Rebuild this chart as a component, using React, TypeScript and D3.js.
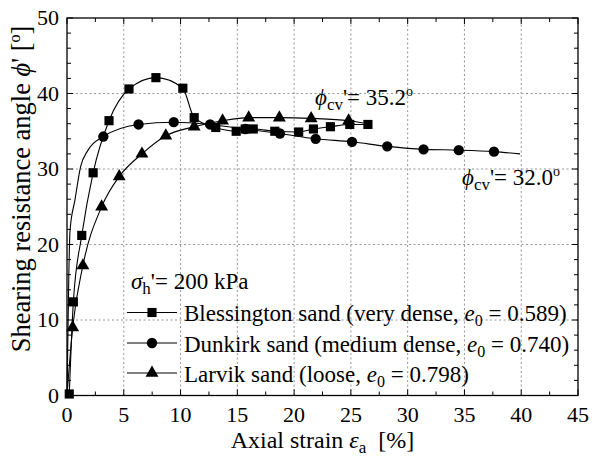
import React from "react";
import * as d3 from "d3";

// [axial strain %, phi' deg, marker shown (1) or not (0)]
const blessington: [number, number, number][] = [
  [0.2, 0.2, 1], [0.56, 12.4, 1], [1.3, 21.2, 1], [2.3, 29.5, 1], [3.7, 36.4, 1],
  [5.46, 40.6, 1], [7.83, 42.1, 1], [10.2, 40.7, 1], [11.2, 36.8, 1], [13.1, 35.5, 1],
  [14.9, 35.0, 1], [15.7, 35.3, 1], [16.4, 35.3, 1], [18.3, 35.0, 1], [20.4, 34.9, 1],
  [21.7, 35.3, 1], [23.2, 35.6, 1], [24.9, 35.9, 1], [26.5, 35.9, 1],
];
const dunkirk: [number, number, number][] = [
  [0, 0, 0], [0.08, 8, 0], [0.15, 15, 0], [0.27, 21.9, 0], [0.7, 25.9, 0], [1.2, 30.3, 0],
  [1.85, 32.5, 0], [3.2, 34.3, 1], [6.3, 35.9, 1], [9.4, 36.2, 1], [12.6, 35.9, 1],
  [15.7, 35.3, 1], [18.75, 34.7, 1], [21.9, 34.0, 1], [25.1, 33.6, 1], [28.2, 33.0, 1],
  [31.4, 32.6, 1], [34.5, 32.5, 1], [37.6, 32.3, 1], [39.9, 32.0, 0],
];
const larvik: [number, number, number][] = [
  [0, 0, 0], [0.5, 9.0, 1], [1.4, 17.2, 1], [3.05, 25.0, 1], [4.6, 29.0, 1], [6.6, 32.0, 1],
  [8.7, 34.4, 1], [11.2, 35.6, 1], [13.7, 36.4, 1], [16.0, 36.8, 1], [18.7, 36.8, 1],
  [21.5, 36.7, 1], [24.8, 36.4, 1], [26.1, 36.1, 0],
];

const xTicks = [0, 5, 10, 15, 20, 25, 30, 35, 40, 45];
const yTicks = [0, 10, 20, 30, 40, 50];
const legendNames = ["Blessington sand (very dense, ", "Dunkirk sand (medium dense, ", "Larvik sand (loose, "];
const legendE0 = ["0.589", "0.740", "0.798"];

const FONT = "Liberation Serif";

export default function App() {
  const W = 592, H = 463;
  const x = d3.scaleLinear().domain([0, 45]).range([67, 578]);
  const y = d3.scaleLinear().domain([0, 50]).range([395.5, 18]);
  const line = d3
    .line<[number, number, number]>()
    .x((d) => x(d[0]))
    .y((d) => y(d[1]))
    .curve(d3.curveMonotoneX);

  const symbols = [d3.symbolSquare, d3.symbolCircle, d3.symbolTriangle];
  const sizes = [84, 84, 72];
  const series = [blessington, dunkirk, larvik];
  const sym = (i: number) => d3.symbol().type(symbols[i]).size(sizes[i])() as string;

  const minorX = d3.range(0, 45.01, 2.5);
  const minorY = d3.range(0, 50.01, 2);

  const x0 = x(0), x1 = x(45), y0 = y(0), y1 = y(50);
  const ts = { fontFamily: FONT } as React.CSSProperties;
  const legendY = [312.5, 343, 373];

  return (
    <svg width={W} height={H} style={{ position: "absolute", left: 0, top: 0, background: "#fff", fontFamily: FONT }}>
      <rect x={0} y={0} width={W} height={H} fill="#fff" />
      {/* grid */}
      {xTicks.filter((t) => t > 0 && t < 45).map((t) => (
        <line key={"gx" + t} x1={x(t)} x2={x(t)} y1={y0} y2={y1} stroke="#8a8a8a" strokeWidth={0.9} strokeDasharray="2,2.5" />
      ))}
      {yTicks.filter((t) => t > 0 && t < 50).map((t) => (
        <line key={"gy" + t} x1={x0} x2={x1} y1={y(t)} y2={y(t)} stroke="#8a8a8a" strokeWidth={0.9} strokeDasharray="2,2.5" />
      ))}
      {/* ticks */}
      {minorX.map((t) => {
        const len = t % 5 === 0 ? 6 : 4;
        return (
          <g key={"tx" + t}>
            <line x1={x(t)} x2={x(t)} y1={y0} y2={y0 - len} stroke="#000" strokeWidth={1} />
            <line x1={x(t)} x2={x(t)} y1={y1} y2={y1 + len} stroke="#000" strokeWidth={1} />
          </g>
        );
      })}
      {minorY.map((t) => {
        const len = t % 10 === 0 ? 6 : 4;
        return (
          <g key={"ty" + t}>
            <line x1={x0} x2={x0 + len} y1={y(t)} y2={y(t)} stroke="#000" strokeWidth={1} />
            <line x1={x1} x2={x1 - len} y1={y(t)} y2={y(t)} stroke="#000" strokeWidth={1} />
          </g>
        );
      })}
      <rect x={x0} y={y1} width={x1 - x0} height={y0 - y1} fill="none" stroke="#000" strokeWidth={1.3} />
      {/* tick labels */}
      {xTicks.map((t) => (
        <text key={"lx" + t} style={ts} x={x(t)} y={422} textAnchor="middle" fontSize={22} fill="#000">{t}</text>
      ))}
      {yTicks.map((t) => (
        <text key={"ly" + t} style={ts} x={59} y={y(t)} dy="0.34em" textAnchor="end" fontSize={22} fill="#000">{t}</text>
      ))}
      {/* axis titles */}
      <text style={ts} x={(x0 + x1) / 2} y={448} textAnchor="middle" fontSize={24} fill="#000">
        Axial strain <tspan fontStyle="italic">ε</tspan><tspan fontSize={17} dy={5}>a</tspan><tspan dy={-5}>{"\u00a0 [%]"}</tspan>
      </text>
      <text style={ts} transform="translate(30,189) rotate(-90)" textAnchor="middle" fontSize={26.5} fill="#000">
        Shearing resistance angle <tspan fontStyle="italic">ϕ</tspan>' [<tspan fontSize={16} dy={-10}>o</tspan><tspan dy={10}>]</tspan>
      </text>
      {/* series */}
      {series.map((s, i) => (
        <g key={"s" + i}>
          <path d={line(s) as string} fill="none" stroke="#000" strokeWidth={1.1} />
          {s.filter((d) => d[2] === 1).map((d, j) => (
            <path key={j} d={sym(i)} transform={`translate(${x(d[0])},${y(d[1])})`} fill="#000" />
          ))}
        </g>
      ))}
      {/* annotations */}
      <text style={ts} x={315} y={105} fontSize={23} fill="#000">
        <tspan fontStyle="italic">ϕ</tspan><tspan fontSize={17} dy={5}>cv</tspan><tspan dy={-5}>'= 35.2</tspan><tspan fontSize={14} dy={-9}>o</tspan>
      </text>
      <text style={ts} x={462} y={185} fontSize={23} fill="#000">
        <tspan fontStyle="italic">ϕ</tspan><tspan fontSize={17} dy={5}>cv</tspan><tspan dy={-5}>'= 32.0</tspan><tspan fontSize={14} dy={-9}>o</tspan>
      </text>
      <text style={ts} x={131} y={288.5} fontSize={23} fill="#000">
        <tspan fontStyle="italic">σ</tspan><tspan fontSize={17} dy={5}>h</tspan><tspan dy={-5}>'= 200 kPa</tspan>
      </text>
      {/* legend */}
      {legendNames.map((name, i) => {
        const ly = legendY[i];
        return (
          <g key={"lg" + i}>
            <line x1={127} x2={177} y1={ly} y2={ly} stroke="#000" strokeWidth={1.1} />
            <path d={sym(i)} transform={`translate(152,${ly})`} fill="#000" />
            <text style={ts} x={184} y={ly + 8.5} fontSize={23} fill="#000">
              {name}<tspan fontStyle="italic">e</tspan><tspan fontSize={16} dy={5}>0</tspan><tspan dy={-5}>{" = " + legendE0[i] + ")"}</tspan>
            </text>
          </g>
        );
      })}
    </svg>
  );
}
